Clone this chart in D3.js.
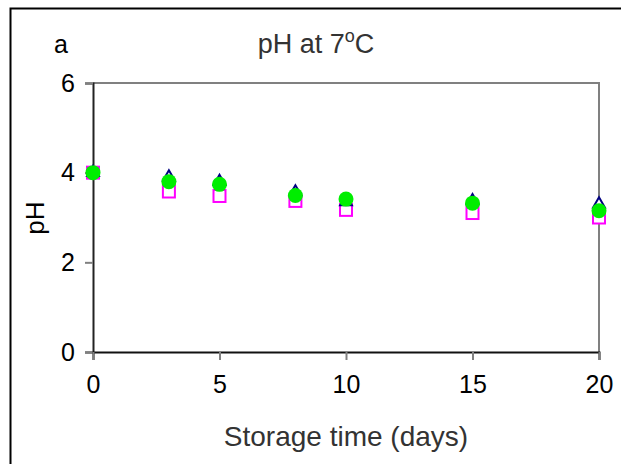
<!DOCTYPE html>
<html>
<head>
<meta charset="utf-8">
<script src="https://cdn.jsdelivr.net/npm/d3@7"></script>
<style>
  html, body { margin: 0; padding: 0; background: #fff; }
  svg { display: block; font-family: "Liberation Sans", Arial, sans-serif; }
</style>
</head>
<body>
<svg id="chart" width="621" height="464"></svg>
<script>
// Storage days and pH readings for the three treatments
const days = [0, 3, 5, 8, 10, 15, 20];
const phTriangle = [4.0, 3.9, 3.8, 3.57, 3.35, 3.37, 3.3];
const phSquare   = [4.0, 3.58, 3.48, 3.37, 3.17, 3.1, 3.0];
const phCircle   = [4.0, 3.8, 3.74, 3.49, 3.41, 3.32, 3.15];
const xTicks = [0, 5, 10, 15, 20];
const yTicks = [0, 2, 4, 6];

const svg = d3.select("#chart");
const plot = { left: 93, right: 599, top: 83, bottom: 352 };

const x = d3.scaleLinear().domain([0, 20]).range([plot.left, plot.right]);
const y = d3.scaleLinear().domain([0, 6]).range([plot.bottom, plot.top]);

// outer frame
svg.append("rect")
  .attr("x", 10.5).attr("y", 8.5)
  .attr("width", 640).attr("height", 500)
  .attr("fill", "none").attr("stroke", "#000").attr("stroke-width", 2);

// plot box: top and right edges in grey
svg.append("path")
  .attr("d", `M${plot.left},${plot.top}H${plot.right}V${plot.bottom}`)
  .attr("fill", "none").attr("stroke", "#808080").attr("stroke-width", 2);

// y axis
const yAxis = svg.append("g")
  .attr("transform", `translate(${plot.left},0)`)
  .call(d3.axisLeft(y).tickValues(yTicks).tickSize(8).tickPadding(10).tickFormat(d3.format("d")));
yAxis.select(".domain").attr("stroke", "#222").attr("stroke-width", 2);
yAxis.selectAll(".tick line").attr("stroke", "#808080").attr("stroke-width", 2);
yAxis.selectAll(".tick text").attr("font-size", 25).attr("fill", "#000")
  .attr("font-family", "Liberation Sans, Arial, sans-serif");

// x axis
const xAxis = svg.append("g")
  .attr("transform", `translate(0,${plot.bottom})`)
  .call(d3.axisBottom(x).tickValues(xTicks).tickSize(8).tickPadding(15).tickFormat(d3.format("d")));
xAxis.select(".domain").attr("stroke", "#111").attr("stroke-width", 2);
xAxis.selectAll(".tick line").attr("stroke", "#808080").attr("stroke-width", 2);
xAxis.selectAll(".tick text").attr("font-size", 25).attr("fill", "#000")
  .attr("font-family", "Liberation Sans, Arial, sans-serif");

// squares (hollow magenta)
const sq = 12;
svg.append("g").selectAll("rect")
  .data(days.map((d, i) => [d, phSquare[i]]))
  .join("rect")
  .attr("x", d => x(d[0]) - sq / 2)
  .attr("y", d => y(d[1]) - sq / 2)
  .attr("width", sq).attr("height", sq)
  .attr("fill", "#fff").attr("stroke", "#ff00ff").attr("stroke-width", 2);

// triangles (navy outline)
const tri = d3.symbol().type(d3.symbolTriangle).size(60);
svg.append("g").selectAll("path")
  .data(days.map((d, i) => [d, phTriangle[i]]))
  .join("path")
  .attr("d", tri)
  .attr("transform", d => `translate(${x(d[0])},${y(d[1])})`)
  .attr("fill", "#fff").attr("stroke", "#000080").attr("stroke-width", 2);

// circles (filled green)
svg.append("g").selectAll("circle")
  .data(days.map((d, i) => [d, phCircle[i]]))
  .join("circle")
  .attr("cx", d => x(d[0]))
  .attr("cy", d => y(d[1]))
  .attr("r", 7.5)
  .attr("fill", "#00ee00");

// panel letter and title
svg.append("text").attr("x", 54).attr("y", 53)
  .attr("font-size", 25).attr("fill", "#000").text("a");

const title = svg.append("text").attr("x", 316).attr("y", 53)
  .attr("text-anchor", "middle").attr("font-size", 27).attr("fill", "#333");
title.append("tspan").text("pH at 7");
title.append("tspan").attr("dy", -11).attr("font-size", 18).text("o");
title.append("tspan").attr("dy", 11).text("C");

// axis titles
svg.append("text").attr("x", 346).attr("y", 446)
  .attr("text-anchor", "middle").attr("font-size", 28).attr("fill", "#333")
  .text("Storage time (days)");

svg.append("text")
  .attr("transform", "translate(44,218) rotate(-90)")
  .attr("text-anchor", "middle").attr("font-size", 26).attr("fill", "#000")
  .text("pH");
</script>
</body>
</html>
